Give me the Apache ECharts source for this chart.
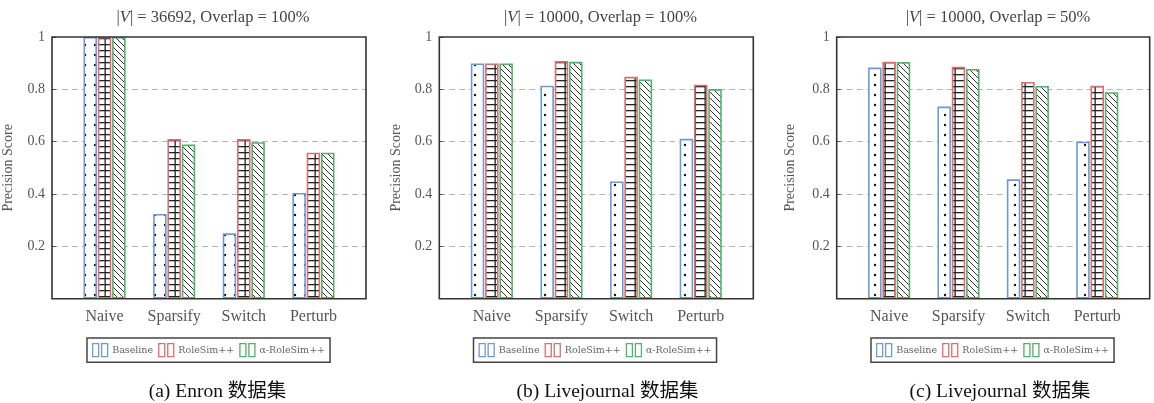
<!DOCTYPE html>
<html>
<head>
<meta charset="utf-8">
<script src="https://cdn.jsdelivr.net/npm/echarts/dist/echarts.min.js"></script>
<style>
  html, body { margin: 0; padding: 0; background: #fff; }
  #main { width: 1154px; height: 403px; }
</style>
</head>
<body>
<div id="main"></div>
<script>
// data
const categories = ['Naive', 'Sparsify', 'Switch', 'Perturb'];
const seriesNames = ['Baseline', 'RoleSim++', 'α-RoleSim++'];

const enronBaseline = [1.0, 0.324, 0.25, 0.404];
const enronRoleSim = [1.0, 0.61, 0.61, 0.558];
const enronAlpha = [1.0, 0.589, 0.598, 0.558];

const lj100Baseline = [0.899, 0.814, 0.448, 0.611];
const lj100RoleSim = [0.899, 0.908, 0.848, 0.818];
const lj100Alpha = [0.899, 0.905, 0.838, 0.801];

const lj50Baseline = [0.883, 0.734, 0.456, 0.6];
const lj50RoleSim = [0.905, 0.886, 0.828, 0.814];
const lj50Alpha = [0.904, 0.878, 0.813, 0.789];

const panelTitles = [
  ['36692', '100%'],
  ['10000', '100%'],
  ['10000', '50%']
];
const captions = ['(a) Enron 数据集', '(b) Livejournal 数据集', '(c) Livejournal 数据集'];
const panelData = [
  [enronBaseline, enronRoleSim, enronAlpha],
  [lj100Baseline, lj100RoleSim, lj100Alpha],
  [lj50Baseline, lj50RoleSim, lj50Alpha]
];

// layout
const frameLeft = [52, 439.3, 836.7];
const frameWidth = [314, 314, 313];
const titleCenter = [208, 595.5, 993];
const captionCenter = [212.5, 602.5, 995];
const legendLeft = [87, 473.5, 871];
const nameGaps = [37, 36, 39];
const colors = ['#6f99d3', '#d96f6f', '#55b06f'];
const serif = '"Liberation Serif", "Times New Roman", serif';

function tile(w, h, draw) {
  const c = document.createElement('canvas');
  c.width = w; c.height = h;
  const ctx = c.getContext('2d');
  ctx.fillStyle = '#fff';
  ctx.fillRect(0, 0, w, h);
  draw(ctx);
  return { image: c, repeat: 'repeat' };
}

const dots = tile(10, 10, ctx => {
  ctx.fillStyle = '#111';
  ctx.beginPath();
  ctx.arc(5, 5, 1.2, 0, Math.PI * 2);
  ctx.fill();
});
const gridPat = tile(10, 6, ctx => {
  ctx.fillStyle = '#222';
  ctx.fillRect(0, 2, 10, 1.3);
  ctx.fillRect(4.5, 0, 1.3, 6);
});
const hatch = tile(6, 6, ctx => {
  ctx.strokeStyle = '#333';
  ctx.lineWidth = 1;
  ctx.beginPath();
  ctx.moveTo(-1, -1); ctx.lineTo(7, 7);
  ctx.moveTo(-7, -1); ctx.lineTo(1, 7);
  ctx.moveTo(5, -1); ctx.lineTo(13, 7);
  ctx.stroke();
});
const fills = [dots, gridPat, hatch];

const grid = [], xAxis = [], yAxis = [], series = [], title = [], legend = [];

for (let p = 0; p < 3; p++) {
  const top = 37, bottom = 104.3;
  // frame grid
  grid.push({
    left: frameLeft[p], top: top, width: frameWidth[p], bottom: bottom,
    show: true, borderColor: '#333', borderWidth: 1.6, backgroundColor: 'transparent', z: 3
  });
  // bar grid
  grid.push({
    left: frameLeft[p] + 17.75, top: top, width: frameWidth[p] - 35.5, bottom: bottom
  });
  xAxis.push({ type: 'value', gridIndex: 2 * p, show: false, min: 0, max: 1 });
  xAxis.push({
    type: 'category', gridIndex: 2 * p + 1, data: categories,
    axisLine: { show: false }, axisTick: { show: false },
    axisLabel: { margin: 10, fontFamily: serif, fontSize: 16, color: '#555' }
  });
  yAxis.push({
    type: 'value', gridIndex: 2 * p, min: 0, max: 1, interval: 0.2,
    name: 'Precision Score', nameLocation: 'middle', nameGap: nameGaps[p],
    nameTextStyle: { fontFamily: serif, fontSize: 14, color: '#555' },
    axisLine: { show: false },
    axisTick: { show: true, inside: true, length: 4, lineStyle: { color: '#555' } },
    axisLabel: {
      margin: 7, fontFamily: serif, fontSize: 14, color: '#555',
      formatter: v => (v === 0 ? '' : String(v))
    },
    splitLine: {
      show: true, showMinLine: false, showMaxLine: false,
      lineStyle: { color: '#b5b5b5', type: [6, 4], width: 1 }
    }
  });
  yAxis.push({ type: 'value', gridIndex: 2 * p + 1, min: 0, max: 1, show: false });

  for (let s = 0; s < 3; s++) {
    series.push({
      type: 'bar', name: seriesNames[s],
      xAxisIndex: 2 * p + 1, yAxisIndex: 2 * p + 1,
      data: panelData[p][s],
      barWidth: 13.5, barGap: '6%',
      itemStyle: { color: fills[s], borderColor: colors[s], borderWidth: 1.6 },
      emphasis: { disabled: true }
    });
  }

  title.push({
    text: '|{i|V}| = ' + panelTitles[p][0] + ', Overlap = ' + panelTitles[p][1],
    left: titleCenter[p], top: 4, textAlign: 'center',
    textStyle: {
      fontFamily: serif, fontSize: 16.5, fontWeight: 'normal', color: '#444',
      rich: { i: { fontFamily: serif, fontSize: 16.5, fontStyle: 'italic', color: '#444' } }
    }
  });
  title.push({
    text: captions[p],
    left: captionCenter[p], top: 377, textAlign: 'center',
    textStyle: {
      fontFamily: '"Liberation Serif", "Noto Sans CJK SC", serif',
      fontSize: 19.5, fontWeight: 'normal', color: '#111'
    }
  });

  legend.push({
    left: legendLeft[p], top: 338,
    orient: 'horizontal',
    padding: [5, 5],
    borderColor: '#444', borderWidth: 1.5,
    itemWidth: 16, itemHeight: 13, itemGap: 5,
    selectedMode: false,
    textStyle: { fontFamily: '"DejaVu Serif", serif', fontSize: 9.5, color: '#666', padding: [0, 0, 0, -1] },
    data: seriesNames.map((n, i) => ({
      name: n,
      icon: 'path://M0,0h6v13h-6zM9,0h6v13h-6z',
      itemStyle: { color: '#fff', borderColor: colors[i], borderWidth: 1.3 }
    }))
  });
}

const chart = echarts.init(document.getElementById('main'));
chart.setOption({
  animation: false,
  title: title,
  legend: legend,
  grid: grid,
  xAxis: xAxis,
  yAxis: yAxis,
  series: series
});
</script>
</body>
</html>
